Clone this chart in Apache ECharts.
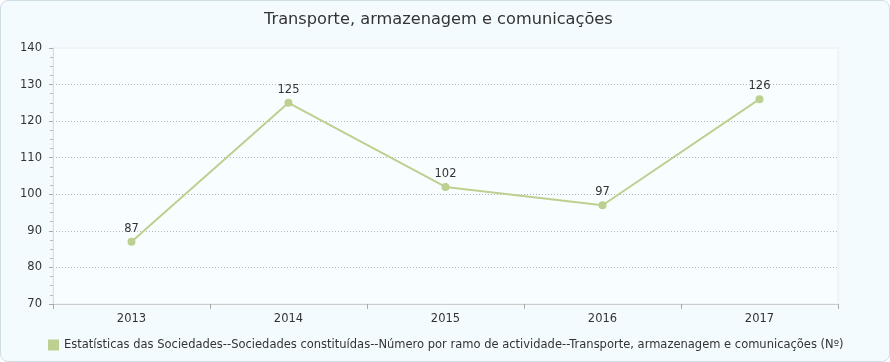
<!DOCTYPE html>
<html><head><meta charset="utf-8">
<script src="https://cdn.jsdelivr.net/npm/echarts@6/dist/echarts.min.js"></script>
<style>
html,body{margin:0;padding:0;background:#fff;}
#box{position:absolute;left:0;top:0;width:888px;height:360px;border:1px solid #cfdde4;border-radius:8px;background:#f4fbfe;overflow:hidden;}
#c{width:888px;height:360px;}
</style></head><body>
<div id="box"><div id="c"></div></div>
<script>
const titleText = 'Transporte, armazenagem e comunicações';
const categories = ['2013','2014','2015','2016','2017'];
const values = [87,125,102,97,126];
const seriesName = 'Estatísticas das Sociedades--Sociedades constituídas--Número por ramo de actividade--Transporte, armazenagem e comunicações (Nº)';
const yTicks = {min:70,max:140,interval:10};
const font = 'DejaVu Sans';
const chart = echarts.init(document.getElementById('c'));
chart.setOption({
  animation:false,
  textStyle:{fontFamily:font},
  title:{text:titleText,left:258,top:6,textStyle:{fontFamily:font,fontSize:16.2,fontWeight:'normal',color:'#333'}},
  grid:{left:52,right:51,top:47,bottom:57,show:true,backgroundColor:'#f8feff',borderColor:'#ececec',borderWidth:1},
  legend:{bottom:5,left:42,itemWidth:11,itemHeight:11,icon:'rect',itemGap:4,
    textStyle:{fontFamily:font,fontSize:11.5,color:'#333'},data:[seriesName]},
  xAxis:{type:'category',data:categories,boundaryGap:true,
    axisLine:{lineStyle:{color:'#ccc'}},axisTick:{show:true,length:5,lineStyle:{color:'#aaa'}},
    axisLabel:{color:'#333',fontSize:11.5,margin:9,fontFamily:font},splitLine:{show:false}},
  yAxis:{type:'value',min:yTicks.min,max:yTicks.max,interval:yTicks.interval,
    axisLine:{show:true,lineStyle:{color:'#ddd'}},
    axisTick:{show:true,length:4,lineStyle:{color:'#aaa'}},
    minorTick:{show:true,splitNumber:4,length:3,lineStyle:{color:'#bbb'}},
    axisLabel:{color:'#333',fontSize:11.5,margin:11,fontFamily:font},
    splitLine:{show:true,showMinLine:false,showMaxLine:false,lineStyle:{color:'#b5b5b5',type:[1,2],width:1}}},
  series:[{name:seriesName,type:'line',data:values,color:'#bcd08f',
    symbol:'circle',symbolSize:8,lineStyle:{width:2,color:'#bcd08f'},itemStyle:{color:'#bcd08f'},
    label:{show:true,position:'top',distance:3,color:'#333',fontSize:11.5,fontFamily:font}}]
});
</script></body></html>
